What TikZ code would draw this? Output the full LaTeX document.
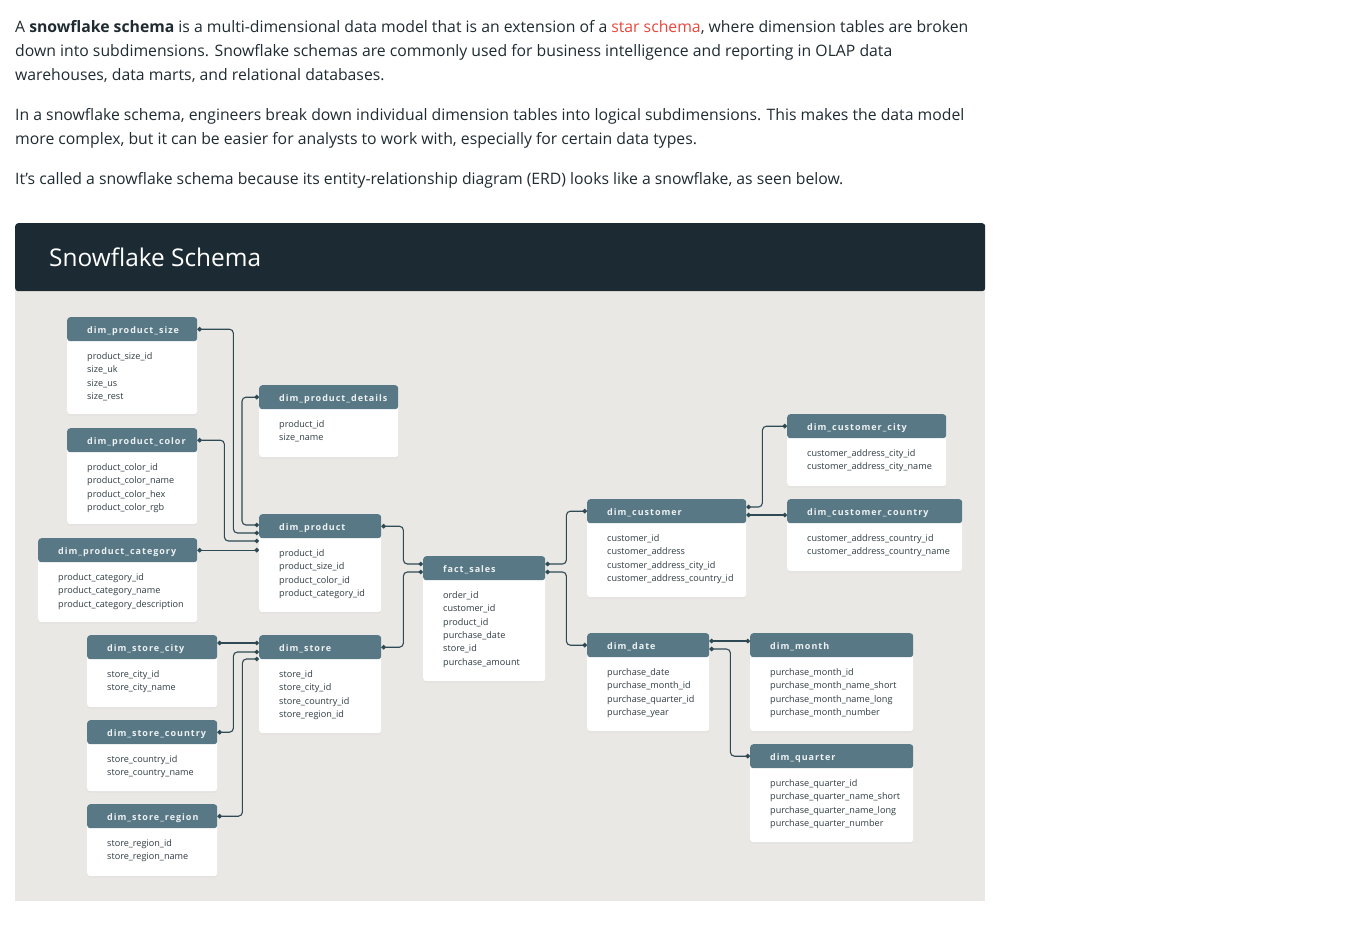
\documentclass[tikz,border=0pt]{standalone}
\usepackage{fontspec}
\setmainfont{Open Sans}
\newfontfamily\headfont[LetterSpace=11]{Open Sans}
\usepackage{xcolor}
\usetikzlibrary{arrows.meta, positioning, calc, shadows}

\definecolor{bodyink}{HTML}{1F2B31}
\definecolor{linkred}{HTML}{E8473D}
\definecolor{barfill}{HTML}{1C2B33}
\definecolor{panelfill}{HTML}{EAE8E4}
\definecolor{headfill}{HTML}{587885}
\definecolor{headink}{HTML}{EEF2F3}
\definecolor{fieldink}{HTML}{2E3B40}
\definecolor{linkink}{HTML}{2F4A55}

% one table: id, x, y, width, height, title, fields
\newcommand{\erdtable}[7]{%
  \node[card, minimum width=#4pt, minimum height=#5pt] (#1) at (#2,#3) {};
  \node[head, minimum width=#4pt] (#1h) at (#1.north west) {};
  \node[headlabel] (#1t) at ([xshift=20pt,yshift=-1.5pt]#1h.west) {#6};
  \node[fieldlist] (#1f) at ([xshift=20pt,yshift=-35.5pt]#1.north west) {#7};
}

\begin{document}
\begin{tikzpicture}[x=1pt, y=-1pt,
    para/.style={anchor=north west, inner sep=0pt, align=left, text=bodyink,
      font=\fontsize{15.77}{24}\selectfont},
    card/.style={rectangle, rounded corners=3pt, fill=white, anchor=north west, inner sep=0pt,
      drop shadow={opacity=0.06, shadow xshift=0pt, shadow yshift=-1.5pt}},
    head/.style={rectangle, rounded corners=3pt, fill=headfill, anchor=north west,
      minimum height=24pt, inner sep=0pt},
    headlabel/.style={anchor=west, inner sep=0pt, text=headink,
      font=\headfont\bfseries\fontsize{9}{11}\selectfont},
    fieldlist/.style={anchor=north west, inner sep=0pt, align=left, text=fieldink,
      font=\fontsize{9.1}{13.3}\selectfont},
    link/.style={draw=linkink, line width=1.1pt, rounded corners=4pt,
      {Circle[length=4.5pt]}-{Circle[length=4.5pt]}}]
  \useasboundingbox (0,0) rectangle (1364,951);

  % text above the figure
  \node[para] (intro) at (15,20) {A \textbf{snowflake schema} is a multi-dimensional data model that is an extension of a \textcolor{linkred}{star schema}, where dimension tables are broken\\
    down into subdimensions. Snowflake schemas are commonly used for business intelligence and reporting in OLAP data\\
    warehouses, data marts, and relational databases.};
  \node[para] (detail) at (15,108) {In a snowflake schema, engineers break down individual dimension tables into logical subdimensions. This makes the data model\\
    more complex, but it can be easier for analysts to work with, especially for certain data types.};
  \node[para] (called) at (15,172) {It’s called a snowflake schema because its entity-relationship diagram (ERD) looks like a snowflake, as seen below.};

  % figure frame
  \node[fill=panelfill, anchor=north west, minimum width=970pt, minimum height=616pt, inner sep=0pt] (panel) at (15,285) {};
  \node[fill=barfill, rounded corners=3pt, anchor=north west, minimum width=970pt, minimum height=68pt, inner sep=0pt] (bar) at (15,223) {};
  \node[anchor=west, inner sep=0pt, text=white, font=\fontsize{24.4}{28}\selectfont] (title) at (49,257) {Snowflake Schema};

  % tables
  \erdtable{psize}{67}{317}{130}{97}{dim\_product\_size}{product\_size\_id\\size\_uk\\size\_us\\size\_rest}
  \erdtable{pcol}{67}{428}{130}{96}{dim\_product\_color}{product\_color\_id\\product\_color\_name\\product\_color\_hex\\product\_color\_rgb}
  \erdtable{pcat}{38}{538}{159}{84}{dim\_product\_category}{product\_category\_id\\product\_category\_name\\product\_category\_description}
  \erdtable{pdet}{259}{385}{139}{72}{dim\_product\_details}{product\_id\\size\_name}
  \erdtable{prod}{259}{514}{122}{98}{dim\_product}{product\_id\\product\_size\_id\\product\_color\_id\\product\_category\_id}
  \erdtable{scity}{87}{635}{130}{72}{dim\_store\_city}{store\_city\_id\\store\_city\_name}
  \erdtable{scountry}{87}{720}{130}{71}{dim\_store\_country}{store\_country\_id\\store\_country\_name}
  \erdtable{sregion}{87}{804}{130}{72}{dim\_store\_region}{store\_region\_id\\store\_region\_name}
  \erdtable{store}{259}{635}{122}{98}{dim\_store}{store\_id\\store\_city\_id\\store\_country\_id\\store\_region\_id}
  \erdtable{fact}{423}{556}{122}{125}{fact\_sales}{order\_id\\customer\_id\\product\_id\\purchase\_date\\store\_id\\purchase\_amount}
  \erdtable{cust}{587}{499}{159}{98}{dim\_customer}{customer\_id\\customer\_address\\customer\_address\_city\_id\\customer\_address\_country\_id}
  \erdtable{ccity}{787}{414}{159}{72}{dim\_customer\_city}{customer\_address\_city\_id\\customer\_address\_city\_name}
  \erdtable{ccountry}{787}{499}{175}{72}{dim\_customer\_country}{customer\_address\_country\_id\\customer\_address\_country\_name}
  \erdtable{date}{587}{633}{122}{98}{dim\_date}{purchase\_date\\purchase\_month\_id\\purchase\_quarter\_id\\purchase\_year}
  \erdtable{month}{750}{633}{163}{98}{dim\_month}{purchase\_month\_id\\purchase\_month\_name\_short\\purchase\_month\_name\_long\\purchase\_month\_number}
  \erdtable{quarter}{750}{744}{163}{98}{dim\_quarter}{purchase\_quarter\_id\\purchase\_quarter\_name\_short\\purchase\_quarter\_name\_long\\purchase\_quarter\_number}

  % product branch
  \draw[link] (psizeh.east) -- ++(36,0) |- ($(prod.north west)+(0,19)$);
  \draw[link] (pdeth.west) -- ++(-17,0) |- ($(prod.north west)+(0,11)$);
  \draw[link] (pcolh.east) -- ++(27,0) |- ($(prod.north west)+(0,27)$);
  \draw[link] (pcath.east) -- (pcath.east -| prod.west);
  \draw[link] (prodh.east) -- ++(22,0) |- ($(fact.north west)+(0,8)$);
  % store branch
  \draw[link] ($(scity.north east)+(0,8)$) -- ($(store.north west)+(0,8)$);
  \draw[link] (scountryh.east) -- ++(16,0) |- ($(store.north west)+(0,17)$);
  \draw[link] (sregionh.east) -- ++(25,0) |- ($(store.north west)+(0,24)$);
  \draw[link] (storeh.east) -- ++(22,0) |- ($(fact.north west)+(0,16)$);
  % customer and date branches
  \draw[link] ($(fact.north east)+(0,8)$) -- ++(21,0) |- (custh.west);
  \draw[link] ($(fact.north east)+(0,16)$) -- ++(21,0) |- (dateh.west);
  \draw[link] ($(cust.north east)+(0,8)$) -- ++(16,0) |- (ccityh.west);
  \draw[link] ($(cust.north east)+(0,16)$) -- ($(ccountry.north west)+(0,16)$);
  \draw[link] ($(date.north east)+(0,8)$) -- ($(month.north west)+(0,8)$);
  \draw[link] ($(date.north east)+(0,16)$) -- ++(21,0) |- (quarterh.west);
\end{tikzpicture}
\end{document}
